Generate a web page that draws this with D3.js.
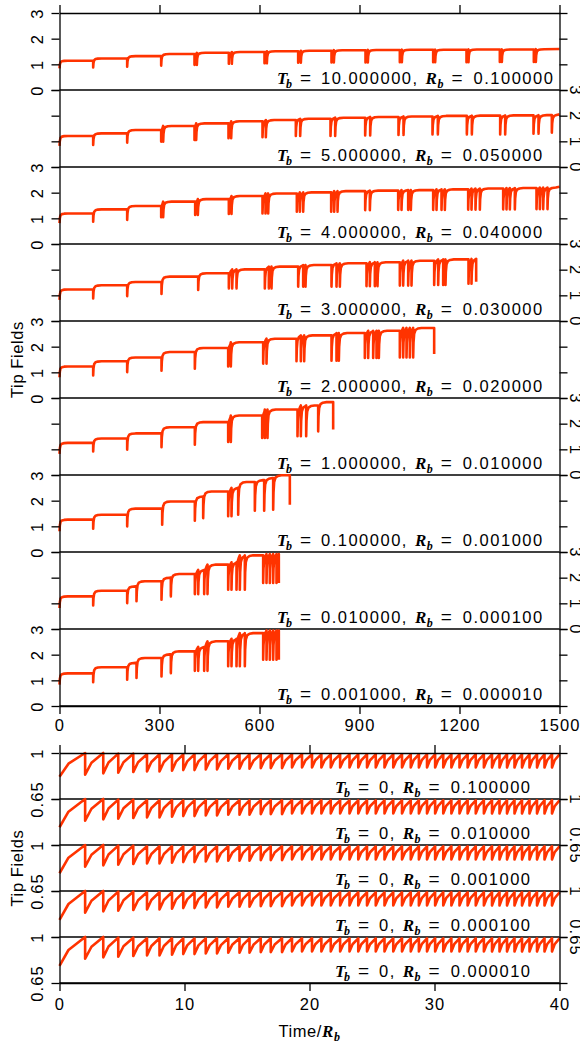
<!DOCTYPE html>
<html><head><meta charset="utf-8">
<script src="https://cdn.jsdelivr.net/npm/d3@7"></script>
<style>body{margin:0;background:#fff}</style>
</head><body><svg id="c" width="580" height="1046"></svg>
<script>
// ---------------- DATA ----------------
// top section: each entry [time, minimum of the dip, level after recovery]
// min === null -> plain point at level ; level === null -> curve ends at min
const topT = ["10.000000","5.000000","4.000000","3.000000","2.000000","1.000000","0.100000","0.010000","0.001000"];
const topR = ["0.100000","0.050000","0.040000","0.030000","0.020000","0.010000","0.001000","0.000100","0.000010"];
const evT10 = [[0,0.84,1.14],[101,0.88,1.23],[203,0.91,1.32],[305,0.95,1.40],[405,0.98,1.45],[412,0.98,1.45],[508,1.02,1.48],[517,1.02,1.48],[615,1.04,1.51],[622,1.04,1.51],[716,1.06,1.53],[724,1.06,1.53],[816,1.07,1.55],[823,1.07,1.55],[918,1.07,1.56],[925,1.07,1.56],[1021,1.08,1.57],[1027,1.08,1.57],[1121,1.08,1.57],[1127,1.08,1.57],[1221,1.08,1.58],[1227,1.08,1.58],[1321,1.09,1.58],[1327,1.09,1.58],[1423,1.09,1.59],[1429,1.09,1.59],[1500,null,1.60]];
const evT5 = [[0,0.82,1.21],[101,0.86,1.31],[203,0.95,1.44],[305,0.99,1.60],[311,0.99,1.60],[405,1.05,1.70],[410,1.05,1.70],[507,1.12,1.78],[515,1.12,1.78],[609,1.16,1.83],[619,1.16,1.83],[709,1.21,1.88],[722,1.21,1.88],[813,1.21,1.92],[827,1.21,1.92],[917,1.23,1.95],[932,1.23,1.95],[1017,1.25,1.97],[1032,1.25,1.97],[1119,1.27,1.99],[1135,1.27,1.99],[1222,1.27,2.00],[1237,1.27,2.00],[1322,1.27,2.01],[1337,1.27,2.01],[1422,1.30,2.02],[1437,1.30,2.02],[1477,1.34,2.04],[1500,null,2.05]];
const evT4 = [[0,0.81,1.19],[101,0.87,1.35],[203,0.94,1.48],[305,1.04,1.65],[311,1.04,1.65],[407,1.13,1.75],[415,1.13,1.75],[508,1.17,1.87],[516,1.17,1.87],[609,1.19,1.97],[618,1.19,1.97],[626,1.19,1.97],[712,1.26,2.01],[721,1.26,2.01],[731,1.26,2.01],[815,1.26,2.06],[824,1.26,2.06],[834,1.26,2.06],[917,1.32,2.08],[931,1.32,2.08],[1016,1.33,2.10],[1026,1.33,2.10],[1046,1.33,2.10],[1054,1.33,2.10],[1121,1.33,2.13],[1131,1.33,2.13],[1146,1.33,2.13],[1156,1.33,2.13],[1226,1.34,2.16],[1236,1.34,2.16],[1248,1.34,2.16],[1261,1.34,2.16],[1331,1.35,2.18],[1341,1.35,2.18],[1351,1.35,2.18],[1366,1.35,2.18],[1431,1.36,2.20],[1441,1.36,2.20],[1451,1.36,2.20],[1464,1.36,2.20],[1500,null,2.23]];
const evT3 = [[0,0.82,1.23],[101,0.88,1.39],[203,0.97,1.52],[306,1.05,1.73],[416,1.21,1.86],[508,1.27,2.01],[518,1.27,2.01],[531,1.27,2.01],[616,1.27,2.12],[628,1.27,2.12],[636,1.27,2.12],[716,1.34,2.18],[731,1.34,2.18],[738,1.34,2.18],[816,1.34,2.25],[831,1.34,2.25],[841,1.34,2.25],[921,1.36,2.29],[931,1.36,2.29],[946,1.36,2.29],[954,1.36,2.29],[1021,1.38,2.35],[1031,1.38,2.35],[1046,1.38,2.35],[1056,1.38,2.35],[1124,1.40,2.40],[1136,1.40,2.40],[1151,1.40,2.40],[1158,1.40,2.40],[1227,1.45,2.42],[1236,1.45,2.42],[1250,1.53,null]];
const evT2 = [[0,0.81,1.23],[101,0.88,1.43],[203,1.01,1.58],[306,1.06,1.79],[406,1.14,1.95],[506,1.23,2.17],[514,1.23,2.17],[611,1.34,2.31],[621,1.34,2.31],[711,1.43,2.44],[724,1.43,2.44],[734,1.43,2.44],[816,1.45,2.53],[831,1.45,2.53],[838,1.45,2.53],[916,1.56,2.62],[926,1.56,2.62],[941,1.56,2.62],[951,1.56,2.62],[958,1.56,2.62],[1021,1.58,2.73],[1031,1.58,2.73],[1041,1.58,2.73],[1051,1.58,2.73],[1061,1.58,2.73],[1124,1.71,null]];
const evT1 = [[0,0.82,1.25],[101,0.92,1.42],[203,0.99,1.62],[306,1.08,1.86],[406,1.18,2.06],[506,1.29,2.32],[514,1.29,2.32],[608,1.44,2.55],[616,1.44,2.55],[624,1.44,2.55],[714,1.51,2.71],[724,1.51,2.71],[740,1.51,2.71],[776,1.70,2.84],[821,1.77,null]];
const evT01 = [[0,0.81,1.26],[101,0.91,1.45],[203,1.00,1.69],[308,1.06,1.97],[406,1.22,2.16],[431,1.32,2.36],[506,1.39,2.50],[516,1.39,2.50],[536,1.45,2.73],[586,1.61,2.80],[614,1.61,2.88],[641,1.65,2.99],[691,1.84,null]];
const evT001 = [[0,0.82,1.27],[101,0.92,1.49],[203,1.01,1.66],[231,1.08,1.86],[306,1.14,2.00],[334,1.27,2.14],[406,1.36,2.30],[416,1.36,2.30],[434,1.36,2.51],[444,1.36,2.51],[506,1.53,2.60],[516,1.53,2.60],[531,1.53,2.87],[541,1.53,2.87],[556,1.53,2.87],[611,1.79,2.92],[621,1.79,2.92],[631,1.79,2.92],[641,1.79,2.92],[651,1.79,2.92],[658,1.79,null]];
const evT0001 = [[0,0.83,1.27],[101,0.93,1.51],[203,1.02,1.68],[231,1.09,1.87],[306,1.15,2.01],[334,1.28,2.13],[406,1.37,2.30],[416,1.37,2.30],[434,1.37,2.52],[444,1.37,2.52],[506,1.55,2.62],[516,1.55,2.62],[531,1.55,2.84],[541,1.55,2.84],[556,1.55,2.84],[611,1.80,2.94],[621,1.80,2.94],[631,1.80,2.94],[641,1.80,2.94],[651,1.80,2.94],[658,1.80,null]];
const topEvents = [evT10, evT5, evT4, evT3, evT2, evT1, evT01, evT001, evT0001];
const topXTicks = [0,300,600,900,1200,1500];
const topYTicks = [0,1,2,3];

// bottom section
const botR = ["0.100000","0.010000","0.001000","0.000100","0.000010"];
const botStart = [0.82, 0.785, 0.785, 0.78, 0.78];
const sawPeakT = [2.05,3.5,4.7,5.9,7.0,8.0,9.0,9.9,10.8,11.7,12.6,13.5,14.4,15.2,16.1,16.9,17.8,18.6,
  19.4,20.2,20.95,21.7,22.45,23.2,23.9,24.6,25.3,26.0,26.7,27.4,28.1,28.75,29.4,30.05,30.7,31.35,32.0,32.65,33.3,33.95,34.6,35.2,35.8,36.4,37.0,37.6,38.2,38.8,39.4,40.0];
const sawPeakV = [1.0,1.0,0.995,0.995,0.99,0.99,0.99,0.99,0.99,0.99,0.99,0.99,0.99,0.99,0.99,0.99,0.99,0.99,
  0.99,0.99,0.99,0.99,0.99,0.99,0.99,0.99,0.99,0.99,0.99,0.99,0.99,0.99,0.99,0.99,0.99,0.99,0.99,0.99,0.99,0.99,0.99,0.99,0.99,0.99,0.99,0.99,0.99,0.99,0.99,0.99];
const sawTroughV = [0.835,0.845,0.85,0.855,0.86,0.86,0.865,0.87,0.87,0.875,0.875,0.88,0.88,0.88,0.885,0.885,0.885,0.89,
  0.89,0.89,0.89,0.89,0.89,0.89,0.89,0.89,0.89,0.89,0.89,0.89,0.89,0.89,0.89,0.89,0.89,0.89,0.89,0.89,0.89,0.89,0.89,0.89,0.89,0.89,0.89,0.89,0.89,0.89,0.89,0.89];
const botXTicks = [0,10,20,30,40];
const botYTicks = [0.65,1];

// ---------------- DRAWING ----------------
const RED = "#ff3300";
const svg = d3.select("#c");
const X0 = 59.5, X1 = 559.5;
const SANS = "Liberation Sans, Arial, sans-serif";
const SERIF = "Liberation Serif, Times New Roman, serif";
const FS = 16.5, LS = 1.1, LLS = 1.5;
const recShape = [[1,0.5],[3,0.8],[7,0.93],[14,0.98],[25,1]];

function buildTop(ev){
  const pts=[]; let prev=null;
  ev.forEach((e,i)=>{
    const [t,mn,lv]=e;
    const nextT = i<ev.length-1 ? ev[i+1][0] : Infinity;
    if(mn===null){ pts.push([t,lv]); prev=lv; return; }
    if(prev!==null) pts.push([t,prev]);
    pts.push([t,mn]);
    if(lv===null) return;
    recShape.forEach(([dt,f])=>{ if(t+dt<nextT) pts.push([t+dt, mn+(lv-mn)*f]); });
    prev=lv;
  });
  return pts;
}
function buildSaw(start){
  const pts=[[0,start]]; let tp=0, vp=start;
  sawPeakT.forEach((t,i)=>{
    const pk=sawPeakV[i];
    pts.push([tp+(t-tp)*0.35, vp+(pk-vp)*0.55]);
    pts.push([t,pk]);
    tp=t; vp=sawTroughV[i];
    if(t<40) pts.push([t,vp]);
  });
  return pts;
}

function ital(t,txt,size,opt){
  const s=t.append("tspan").attr("font-family",SERIF).attr("font-style","italic").attr("font-weight","bold").attr("font-size",size).text(txt);
  Object.entries(opt||{}).forEach(([k,v])=>s.attr(k,v));
  return s;
}
function label(g,x,y,T,R){
  const t=g.append("text").attr("x",x).attr("y",y).attr("font-family",SANS).attr("font-size",FS).attr("fill","#000");
  ital(t,"T",17);
  ital(t,"b",12,{dy:4,dx:-1.5});
  t.append("tspan").attr("dy",-4).attr("dx",8).attr("font-size",19).text("=");
  t.append("tspan").attr("dx",10).attr("letter-spacing",LLS).text(T+",");
  ital(t,"R",17,{dx:7});
  ital(t,"b",12,{dy:4,dx:0.5});
  t.append("tspan").attr("dy",-4).attr("dx",8).attr("font-size",19).text("=");
  t.append("tspan").attr("dx",11).attr("letter-spacing",LLS).text(R);
}

function section(opts){
  const {n, y0, ph, x, yDomain, yTicks, events, labelsX, labelText, yFmt} = opts;
  const g = svg.append("g");
  for(let i=0;i<n;i++){
    const top=y0+ph*i, bot=top+ph;
    const y=d3.scaleLinear().domain(yDomain).range([bot,top]);
    g.append("path").datum(events(i)).attr("fill","none").attr("stroke",RED).attr("stroke-width",2.6)
      .attr("stroke-linejoin","round")
      .attr("d",d3.line().x(d=>x(d[0])).y(d=>y(d[1])));
    const la=g.append("g").attr("transform",`translate(${X0},0)`).call(d3.axisLeft(y).tickValues(yTicks).tickSize(8).tickSizeOuter(0).tickFormat(yFmt));
    const ra=g.append("g").attr("transform",`translate(${X1},0)`).call(d3.axisRight(y).tickValues(yTicks).tickSize(8).tickSizeOuter(0).tickFormat(yFmt));
    [la,ra].forEach(a=>{a.selectAll("line").attr("stroke","#000").attr("stroke-width",1.3);a.select(".domain").attr("stroke","#000").attr("stroke-width",1.3);
      a.selectAll("text").attr("font-family",SANS).attr("font-size",FS).attr("letter-spacing",LS).attr("fill","#000").attr("text-anchor","middle").attr("x",0).attr("dy",0);});
    if(i%2===0){ ra.selectAll("text").remove(); la.selectAll("text").attr("transform","rotate(-90)").attr("y",-16.5); }
    else { la.selectAll("text").remove(); ra.selectAll("text").attr("transform","rotate(90)").attr("y",-10); }
    g.append("line").attr("x1",X0).attr("x2",X1).attr("y1",bot).attr("y2",bot).attr("stroke","#000").attr("stroke-width",1.3);
    label(g, labelsX, bot-6, ...labelText(i));
  }
  return g;
}

// top section
const xTop=d3.scaleLinear().domain([0,1500]).range([X0,X1]);
section({n:9,y0:13,ph:77,x:xTop,yDomain:[0,3],yTicks:topYTicks,events:i=>buildTop(topEvents[i]),labelsX:277,
  labelText:i=>[topT[i],topR[i]], yFmt:d3.format("d")});
const xt=svg.append("g").attr("transform","translate(0,13)").call(d3.axisTop(xTop).tickValues(topXTicks).tickSize(8).tickSizeOuter(0).tickFormat(""));
const xb=svg.append("g").attr("transform","translate(0,706)").call(d3.axisBottom(xTop).tickValues(topXTicks).tickSize(8).tickSizeOuter(0).tickFormat(d3.format("d")));

// bottom section
const xBot=d3.scaleLinear().domain([0,40]).range([X0,X1]);
section({n:5,y0:753,ph:46,x:xBot,yDomain:[0.65,1],yTicks:botYTicks,events:i=>buildSaw(botStart[i]),labelsX:335,
  labelText:i=>["0",botR[i]], yFmt:d=>String(d)});
const xt2=svg.append("g").attr("transform","translate(0,753)").call(d3.axisTop(xBot).tickValues(botXTicks).tickSize(8).tickSizeOuter(0).tickFormat(""));
const xb2=svg.append("g").attr("transform","translate(0,983)").call(d3.axisBottom(xBot).tickValues(botXTicks).tickSize(8).tickSizeOuter(0).tickFormat(d3.format("d")));

[xt,xb,xt2,xb2].forEach(a=>{a.selectAll("line").attr("stroke","#000").attr("stroke-width",1.3);a.select(".domain").attr("stroke","#000").attr("stroke-width",1.3);
  a.selectAll("text").attr("font-family",SANS).attr("font-size",FS).attr("fill","#000").attr("letter-spacing",LS);});
xb.selectAll("text").attr("y",25).attr("dy",0);
xb2.selectAll("text").attr("y",27).attr("dy",0);

// axis titles
svg.append("text").attr("transform",`translate(23,${(13+706)/2}) rotate(-90)`).attr("text-anchor","middle")
  .attr("font-family",SANS).attr("font-size",FS).attr("letter-spacing",0.6).text("Tip Fields");
svg.append("text").attr("transform",`translate(23,${(753+983)/2}) rotate(-90)`).attr("text-anchor","middle")
  .attr("font-family",SANS).attr("font-size",FS).attr("letter-spacing",0.6).text("Tip Fields");
const tt=svg.append("text").attr("x",(X0+X1)/2).attr("y",1037).attr("text-anchor","middle").attr("font-family",SANS).attr("font-size",FS).attr("letter-spacing",0.6);
tt.append("tspan").text("Time/");
ital(tt,"R",17);
ital(tt,"b",12,{dy:4});
</script></body></html>
